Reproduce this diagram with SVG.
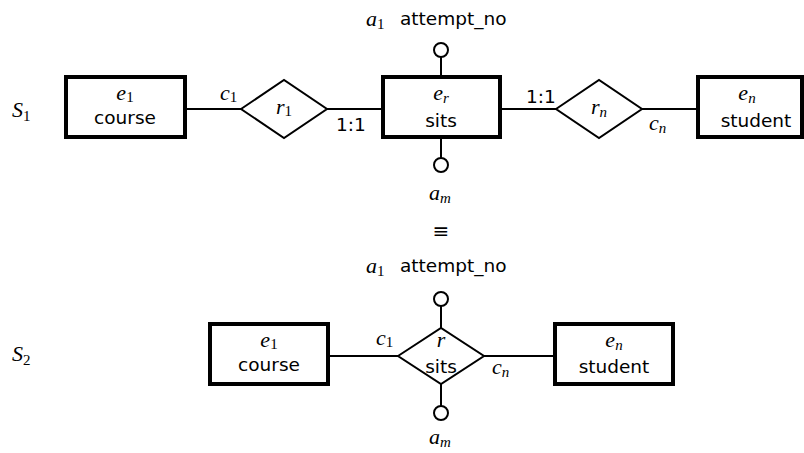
<svg xmlns="http://www.w3.org/2000/svg" width="804" height="453" viewBox="0 0 804 453">
<style>
.ent{fill:#fff;stroke:#000;stroke-width:4}
.rel{fill:#fff;stroke:#000;stroke-width:2}
.att{fill:#fff;stroke:#000;stroke-width:2}
.ln{stroke:#000;stroke-width:2;fill:none}
.m{font-family:"Liberation Serif","DejaVu Serif",serif;font-style:italic;font-size:22px;fill:#000}
.sub{font-style:normal;font-size:15px}
.subi{font-style:italic;font-size:15px}
.s{font-family:"DejaVu Sans","Liberation Sans",sans-serif;font-size:18.5px;fill:#000}
</style>
<rect width="804" height="453" fill="#fff"/>
<g id="connectors">
<line class="ln" x1="185" y1="109" x2="241" y2="109"/>
<line class="ln" x1="327" y1="109" x2="383" y2="109"/>
<line class="ln" x1="500" y1="109" x2="556" y2="109"/>
<line class="ln" x1="642" y1="109" x2="698" y2="109"/>
<line class="ln" x1="441" y1="57" x2="441" y2="77"/>
<line class="ln" x1="441" y1="137" x2="441" y2="158"/>
<line class="ln" x1="328" y1="356" x2="398" y2="356"/>
<line class="ln" x1="484" y1="356" x2="555" y2="356"/>
<line class="ln" x1="441" y1="306" x2="441" y2="328"/>
<line class="ln" x1="441" y1="384" x2="441" y2="406"/>
</g>
<g id="labels">
<text class="m" x="12" y="117">S<tspan class="sub" dy="4">1</tspan></text>
<text class="m" x="12" y="361">S<tspan class="sub" dy="4">2</tspan></text>
<text class="m" x="220" y="100">c<tspan class="sub" dy="2">1</tspan></text>
<text class="s" x="336" y="131">1:1</text>
<text class="s" x="526" y="103">1:1</text>
<text class="m" x="649" y="130">c<tspan class="subi" dy="3">n</tspan></text>
<text class="m" x="366" y="26">a<tspan class="sub" dy="3">1</tspan></text>
<text class="s" x="400" y="25">attempt_no</text>
<text class="m" x="429" y="200">a<tspan class="subi" dy="3">m</tspan></text>
<text x="441" y="238" text-anchor="middle" font-family="DejaVu Sans,sans-serif" font-size="20">≡</text>
<text class="m" x="366" y="273">a<tspan class="sub" dy="3">1</tspan></text>
<text class="s" x="400" y="272">attempt_no</text>
<text class="m" x="429" y="444">a<tspan class="subi" dy="3">m</tspan></text>
<text class="m" x="376" y="345">c<tspan class="sub" dy="2">1</tspan></text>
<text class="m" x="492" y="374">c<tspan class="subi" dy="3">n</tspan></text>
</g>
<g id="e1">
<rect class="ent" x="66" y="77" width="119" height="60"/>
<text class="m" x="125" y="100" text-anchor="middle">e<tspan class="sub" dy="2">1</tspan></text>
<text class="s" x="125" y="124" text-anchor="middle">course</text>
</g>
<g id="r1">
<polygon class="rel" points="241,109 284,80 327,109 284,138"/>
<text class="m" x="284" y="114" text-anchor="middle">r<tspan class="sub" dy="2">1</tspan></text>
</g>
<g id="er">
<rect class="ent" x="383" y="77" width="117" height="60"/>
<text class="m" x="441" y="100" text-anchor="middle">e<tspan class="subi" dy="3">r</tspan></text>
<text class="s" x="441" y="127" text-anchor="middle">sits</text>
</g>
<g id="a1top">
<circle class="att" cx="441" cy="50" r="7"/>
</g>
<g id="amtop">
<circle class="att" cx="441" cy="165" r="7"/>
</g>
<g id="rn">
<polygon class="rel" points="556,109 599,80 642,109 599,138"/>
<text class="m" x="599" y="114" text-anchor="middle">r<tspan class="subi" dy="3">n</tspan></text>
</g>
<g id="en">
<rect class="ent" x="698" y="77" width="104" height="60"/>
<text class="m" x="747" y="100" text-anchor="middle">e<tspan class="subi" dy="3">n</tspan></text>
<text class="s" x="756" y="127" text-anchor="middle">student</text>
</g>
<g id="e1b">
<rect class="ent" x="210" y="324" width="118" height="60"/>
<text class="m" x="269" y="347" text-anchor="middle">e<tspan class="sub" dy="2">1</tspan></text>
<text class="s" x="269" y="371" text-anchor="middle">course</text>
</g>
<g id="r">
<polygon class="rel" points="398,356 441,328 484,356 441,384"/>
<text class="m" x="441" y="347" text-anchor="middle">r</text>
<text class="s" x="441" y="373" text-anchor="middle">sits</text>
</g>
<g id="a1bot">
<circle class="att" cx="441" cy="299" r="7"/>
</g>
<g id="ambot">
<circle class="att" cx="441" cy="413" r="7"/>
</g>
<g id="enb">
<rect class="ent" x="555" y="324" width="118" height="60"/>
<text class="m" x="614" y="347" text-anchor="middle">e<tspan class="subi" dy="3">n</tspan></text>
<text class="s" x="614" y="373" text-anchor="middle">student</text>
</g>
</svg>
